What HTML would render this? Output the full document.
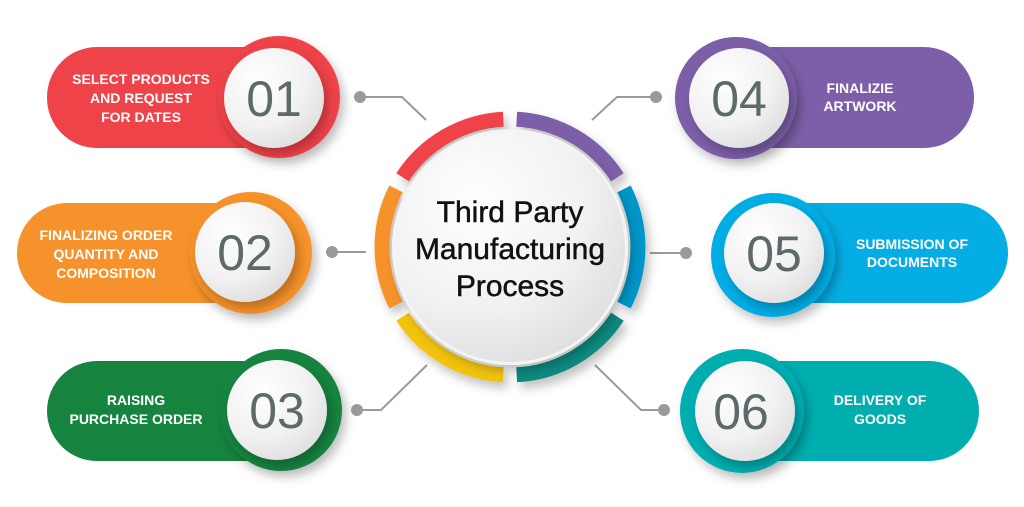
<!DOCTYPE html>
<html><head><meta charset="utf-8"><style>
html,body{margin:0;padding:0;background:#fff;}
svg{display:block;}
.lbl{font-family:"Liberation Sans",sans-serif;font-weight:bold;font-size:14px;fill:#fff;text-anchor:middle;}
.num{font-family:"Liberation Sans",sans-serif;font-size:50px;fill:#5d6a6a;text-anchor:middle;}
.ttl{font-family:"Liberation Sans",sans-serif;font-size:30px;fill:#111;stroke:#111;stroke-width:0.5;text-anchor:middle;}
</style></head><body>
<svg width="1024" height="507" viewBox="0 0 1024 507" xmlns="http://www.w3.org/2000/svg">
<defs>
<radialGradient id="wg" cx="0.35" cy="0.3" r="0.8">
<stop offset="0" stop-color="#ffffff"/><stop offset="0.6" stop-color="#f1f1f1"/><stop offset="1" stop-color="#dcdcdc"/>
</radialGradient>
<filter id="sh" x="-30%" y="-30%" width="160%" height="160%">
<feDropShadow dx="4" dy="6" stdDeviation="5" flood-color="#000" flood-opacity="0.25"/>
</filter>
</defs>

<g stroke="#9a9a9a" stroke-width="2" fill="none">
<polyline points="362,97 402,97 426,120"/>
<polyline points="333,252 366,252"/>
<polyline points="358,410 381,410 427,365"/>
<polyline points="655,97 617,97 592,120"/>
<polyline points="684,253 650,253"/>
<polyline points="663,410 641,410 595,365"/>
</g>
<g fill="#9a9a9a">
<circle cx="360" cy="97" r="6"/><circle cx="332" cy="252" r="6"/><circle cx="357" cy="410" r="6"/>
<circle cx="656" cy="97" r="6"/><circle cx="686" cy="253" r="6"/><circle cx="664" cy="410" r="6"/>
</g>

<rect x="47" y="47" width="260" height="101" rx="50" fill="#ef434a"/>
<circle cx="279" cy="97" r="61" fill="#ef434a" filter="url(#sh)"/>
<circle cx="274" cy="98" r="50" fill="url(#wg)" filter="url(#sh)"/>
<text class="num" x="274" y="116">01</text>
<text class="lbl"><tspan x="141" y="84">SELECT PRODUCTS</tspan><tspan x="141" y="103">AND REQUEST</tspan><tspan x="141" y="122">FOR DATES</tspan></text>

<rect x="17" y="203" width="260" height="100" rx="50" fill="#f6922b"/>
<circle cx="251" cy="253" r="61" fill="#f6922b" filter="url(#sh)"/>
<circle cx="245" cy="252" r="50" fill="url(#wg)" filter="url(#sh)"/>
<text class="num" x="245" y="270">02</text>
<text class="lbl"><tspan x="106" y="240">FINALIZING ORDER</tspan><tspan x="106" y="259">QUANTITY AND</tspan><tspan x="106" y="278">COMPOSITION</tspan></text>

<rect x="47" y="361" width="260" height="100" rx="50" fill="#16843f"/>
<circle cx="281" cy="410" r="61" fill="#16843f" filter="url(#sh)"/>
<circle cx="277" cy="410" r="50" fill="url(#wg)" filter="url(#sh)"/>
<text class="num" x="277" y="428">03</text>
<text class="lbl"><tspan x="136" y="405">RAISING</tspan><tspan x="136" y="424">PURCHASE ORDER</tspan></text>

<rect x="710" y="47" width="264" height="101" rx="50" fill="#7d5fa9"/>
<circle cx="736" cy="98" r="61" fill="#7d5fa9" filter="url(#sh)"/>
<circle cx="739" cy="98" r="50" fill="url(#wg)" filter="url(#sh)"/>
<text class="num" x="739" y="116">04</text>
<text class="lbl"><tspan x="860" y="93">FINALIZIE</tspan><tspan x="860" y="111">ARTWORK</tspan></text>

<rect x="745" y="203" width="263" height="100" rx="50" fill="#05ade5"/>
<circle cx="773" cy="255" r="62" fill="#05ade5" filter="url(#sh)"/>
<circle cx="774" cy="253" r="50" fill="url(#wg)" filter="url(#sh)"/>
<text class="num" x="774" y="271">05</text>
<text class="lbl"><tspan x="912" y="249">SUBMISSION OF</tspan><tspan x="912" y="267">DOCUMENTS</tspan></text>

<rect x="715" y="361" width="264" height="100" rx="50" fill="#00aeb0"/>
<circle cx="742" cy="411" r="62" fill="#00aeb0" filter="url(#sh)"/>
<circle cx="745" cy="411" r="50" fill="url(#wg)" filter="url(#sh)"/>
<text class="num" x="741" y="429">06</text>
<text class="lbl"><tspan x="880" y="405">DELIVERY OF</tspan><tspan x="880" y="424">GOODS</tspan></text>

<g fill="none" stroke-width="15" filter="url(#sh)">
<path d="M503.3,119.2 A128,128 0 0 0 402.6,177.3" stroke="#ef434a"/>
<path d="M516.7,119.2 A128,128 0 0 1 617.4,177.3" stroke="#7d5fa9"/>
<path d="M624,188.9 A128,128 0 0 1 624,305.1" stroke="#0596c8"/>
<path d="M617.4,316.7 A128,128 0 0 1 516.7,374.8" stroke="#0b8a80"/>
<path d="M503.3,374.8 A128,128 0 0 1 402.6,316.7" stroke="#f2c311"/>
<path d="M396,305.1 A128,128 0 0 1 396,188.9" stroke="#f6922b"/>
</g>
<circle cx="510" cy="247" r="118" fill="#f4f4f4" filter="url(#sh)"/>
<circle cx="510" cy="247" r="115" fill="url(#wg)"/>
<text class="ttl"><tspan x="510" y="222">Third Party</tspan><tspan x="510" y="259">Manufacturing</tspan><tspan x="510" y="296">Process</tspan></text>
</svg>
</body></html>
